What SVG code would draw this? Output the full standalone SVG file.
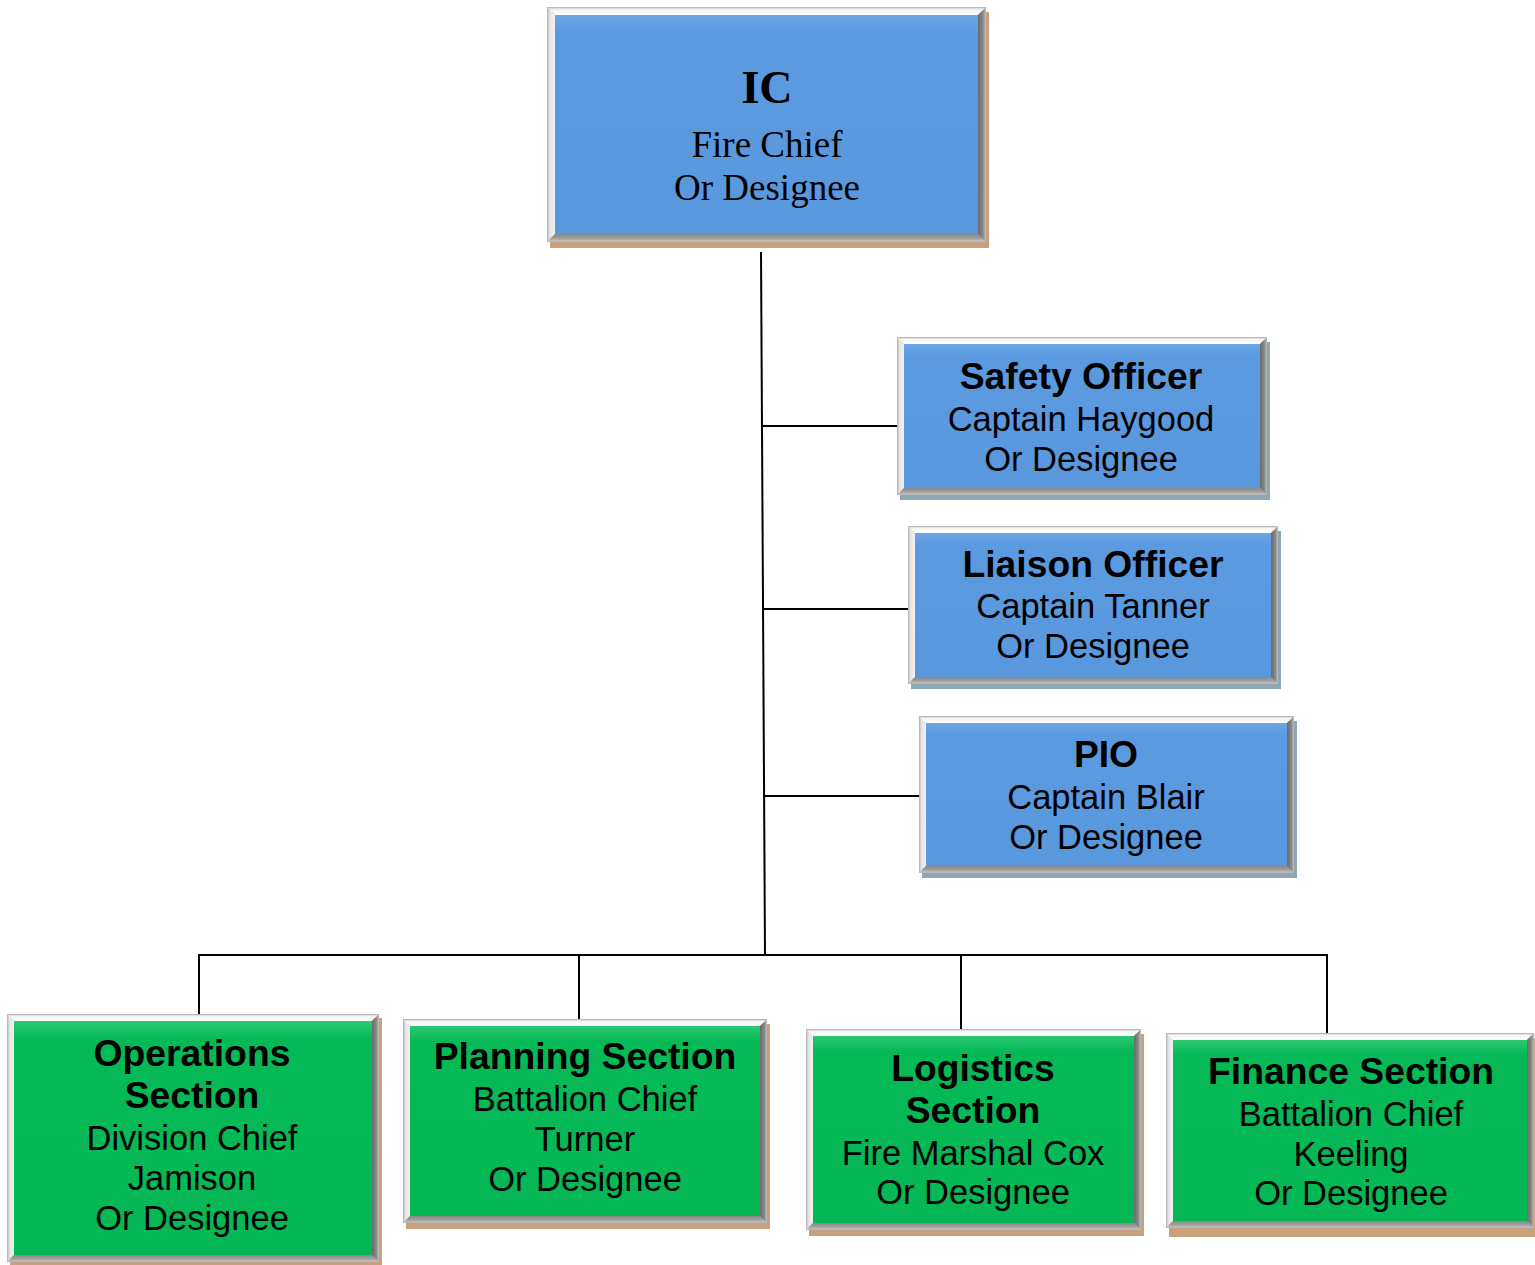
<svg xmlns="http://www.w3.org/2000/svg" width="1535" height="1265" viewBox="0 0 1535 1265">
  <defs>
    <linearGradient id="bevTop" x1="0" y1="0" x2="0" y2="1">
      <stop offset="0" stop-color="#c4c4c4"/>
      <stop offset="0.35" stop-color="#f4f4f4"/>
      <stop offset="1" stop-color="#ffffff"/>
    </linearGradient>
    <linearGradient id="bevLeft" x1="0" y1="0" x2="1" y2="0">
      <stop offset="0" stop-color="#bdbdbd"/>
      <stop offset="0.4" stop-color="#e6e6e6"/>
      <stop offset="1" stop-color="#f2f2f2"/>
    </linearGradient>
    <linearGradient id="bevRight" x1="0" y1="0" x2="1" y2="0">
      <stop offset="0" stop-color="#6a6a6a"/>
      <stop offset="0.6" stop-color="#888888"/>
      <stop offset="1" stop-color="#bdbdbd"/>
    </linearGradient>
    <linearGradient id="bevBottom" x1="0" y1="0" x2="0" y2="1">
      <stop offset="0" stop-color="#878787"/>
      <stop offset="0.6" stop-color="#a3a3a3"/>
      <stop offset="1" stop-color="#cfcfcf"/>
    </linearGradient>
    <linearGradient id="faceBlue" x1="0" y1="0" x2="0" y2="1">
      <stop offset="0" stop-color="#6ba6e6"/>
      <stop offset="0.08" stop-color="#5c9ae0"/>
      <stop offset="1" stop-color="#5a98de"/>
    </linearGradient>
    <linearGradient id="faceGreen" x1="0" y1="0" x2="0" y2="1">
      <stop offset="0" stop-color="#2cc872"/>
      <stop offset="0.08" stop-color="#06b957"/>
      <stop offset="1" stop-color="#05b755"/>
    </linearGradient>
  </defs>
  <style>
    .bt { fill: url(#bevTop); }
    .bl { fill: url(#bevLeft); }
    .br { fill: url(#bevRight); }
    .bb { fill: url(#bevBottom); }
    .edge { fill: none; stroke: #b8b8b8; stroke-width: 1; }
    .blue { fill: url(#faceBlue); }
    .green { fill: url(#faceGreen); }
    .shTan { fill: #c9a07e; }
    .shSlate { fill: #8ea8b3; }
    .conn { stroke: #000; stroke-width: 2; fill: none; }
    text { font-family: "Liberation Sans", Arial, sans-serif; text-anchor: middle; fill: #000; }
    .ttl { font-weight: bold; font-size: 37.3px; }
    .sub { font-size: 34.5px; }
    .serifTtl { font-family: "Liberation Serif", "Times New Roman", serif; font-weight: bold; font-size: 46px; }
    .serifSub { font-family: "Liberation Serif", "Times New Roman", serif; font-size: 37px; }
  </style>

  <!-- reporting lines -->
  <g id="connectors">
    <path class="conn" d="M761,252 L765,955"/>
    <path class="conn" d="M762,426 H900"/>
    <path class="conn" d="M764,609 H908"/>
    <path class="conn" d="M764,796 H920"/>
    <path class="conn" d="M198,955 H1328"/>
    <path class="conn" d="M199,955 V1015"/>
    <path class="conn" d="M579,955 V1020"/>
    <path class="conn" d="M961,955 V1030"/>
    <path class="conn" d="M1327,955 V1034"/>
  </g>

  <!-- Incident Commander -->
  <g id="ic">
    <rect class="shTan" x="550" y="12" width="439" height="236"/>
    <polygon class="bt" points="547,7 986,7 978,15 555,15"/>
    <polygon class="bl" points="547,7 555,15 555,234 547,242"/>
    <polygon class="br" points="986,7 986,242 978,234 978,15"/>
    <polygon class="bb" points="547,242 555,234 978,234 986,242"/>
    <rect class="blue" x="555" y="15" width="423" height="219"/>
    <rect class="edge" x="547.5" y="7.5" width="438" height="234"/>
    <text class="serifTtl" x="767" y="103">IC</text>
    <text class="serifSub" x="767" y="157">Fire Chief</text>
    <text class="serifSub" x="767" y="200">Or Designee</text>
  </g>

  <!-- Command staff -->
  <g id="safety">
    <rect class="shSlate" x="900" y="342" width="370" height="158"/>
    <polygon class="bt" points="897,337 1267,337 1260,344 904,344"/>
    <polygon class="bl" points="897,337 904,344 904,488 897,495"/>
    <polygon class="br" points="1267,337 1267,495 1260,488 1260,344"/>
    <polygon class="bb" points="897,495 904,488 1260,488 1267,495"/>
    <rect class="blue" x="904" y="344" width="356" height="144"/>
    <rect class="edge" x="897.5" y="337.5" width="369" height="157"/>
    <text class="ttl" x="1081" y="389">Safety Officer</text>
    <text class="sub" x="1081" y="431">Captain Haygood</text>
    <text class="sub" x="1081" y="471">Or Designee</text>
  </g>

  <g id="liaison">
    <rect class="shSlate" x="911" y="531" width="370" height="158"/>
    <polygon class="bt" points="908,526 1278,526 1271,533 915,533"/>
    <polygon class="bl" points="908,526 915,533 915,677 908,684"/>
    <polygon class="br" points="1278,526 1278,684 1271,677 1271,533"/>
    <polygon class="bb" points="908,684 915,677 1271,677 1278,684"/>
    <rect class="blue" x="915" y="533" width="356" height="144"/>
    <rect class="edge" x="908.5" y="526.5" width="369" height="157"/>
    <text class="ttl" x="1093" y="577">Liaison Officer</text>
    <text class="sub" x="1093" y="618">Captain Tanner</text>
    <text class="sub" x="1093" y="658">Or Designee</text>
  </g>

  <g id="pio">
    <rect class="shSlate" x="922" y="721" width="375" height="157"/>
    <polygon class="bt" points="919,716 1294,716 1287,723 926,723"/>
    <polygon class="bl" points="919,716 926,723 926,866 919,873"/>
    <polygon class="br" points="1294,716 1294,873 1287,866 1287,723"/>
    <polygon class="bb" points="919,873 926,866 1287,866 1294,873"/>
    <rect class="blue" x="926" y="723" width="361" height="143"/>
    <rect class="edge" x="919.5" y="716.5" width="374" height="156"/>
    <text class="ttl" x="1106" y="767">PIO</text>
    <text class="sub" x="1106" y="809">Captain Blair</text>
    <text class="sub" x="1106" y="849">Or Designee</text>
  </g>

  <!-- General staff sections -->
  <g id="operations">
    <rect class="shTan" x="10" y="1018" width="372" height="248"/>
    <polygon class="bt" points="7,1014 379,1014 372,1021 14,1021"/>
    <polygon class="bl" points="7,1014 14,1021 14,1255 7,1262"/>
    <polygon class="br" points="379,1014 379,1262 372,1255 372,1021"/>
    <polygon class="bb" points="7,1262 14,1255 372,1255 379,1262"/>
    <rect class="green" x="14" y="1021" width="358" height="234"/>
    <rect class="edge" x="7.5" y="1014.5" width="371" height="247"/>
    <text class="ttl" x="192" y="1066">Operations</text>
    <text class="ttl" x="192" y="1108">Section</text>
    <text class="sub" x="192" y="1150">Division Chief</text>
    <text class="sub" x="192" y="1190">Jamison</text>
    <text class="sub" x="192" y="1230">Or Designee</text>
  </g>

  <g id="planning">
    <rect class="shTan" x="406" y="1024" width="364" height="205"/>
    <polygon class="bt" points="403,1019 767,1019 760,1026 410,1026"/>
    <polygon class="bl" points="403,1019 410,1026 410,1216 403,1223"/>
    <polygon class="br" points="767,1019 767,1223 760,1216 760,1026"/>
    <polygon class="bb" points="403,1223 410,1216 760,1216 767,1223"/>
    <rect class="green" x="410" y="1026" width="350" height="190"/>
    <rect class="edge" x="403.5" y="1019.5" width="363" height="203"/>
    <text class="ttl" x="585" y="1069">Planning Section</text>
    <text class="sub" x="585" y="1111">Battalion Chief</text>
    <text class="sub" x="585" y="1151">Turner</text>
    <text class="sub" x="585" y="1191">Or Designee</text>
  </g>

  <g id="logistics">
    <rect class="shTan" x="809" y="1034" width="335" height="202"/>
    <polygon class="bt" points="806,1029 1141,1029 1134,1036 813,1036"/>
    <polygon class="bl" points="806,1029 813,1036 813,1223 806,1230"/>
    <polygon class="br" points="1141,1029 1141,1230 1134,1223 1134,1036"/>
    <polygon class="bb" points="806,1230 813,1223 1134,1223 1141,1230"/>
    <rect class="green" x="813" y="1036" width="321" height="187"/>
    <rect class="edge" x="806.5" y="1029.5" width="334" height="200"/>
    <text class="ttl" x="973" y="1081">Logistics</text>
    <text class="ttl" x="973" y="1123">Section</text>
    <text class="sub" x="973" y="1165">Fire Marshal Cox</text>
    <text class="sub" x="973" y="1204">Or Designee</text>
  </g>

  <g id="finance">
    <rect class="shTan" x="1169" y="1038" width="368" height="199"/>
    <polygon class="bt" points="1166,1033 1534,1033 1527,1040 1173,1040"/>
    <polygon class="bl" points="1166,1033 1173,1040 1173,1221 1166,1228"/>
    <polygon class="br" points="1534,1033 1534,1228 1527,1221 1527,1040"/>
    <polygon class="bb" points="1166,1228 1173,1221 1527,1221 1534,1228"/>
    <rect class="green" x="1173" y="1040" width="354" height="181"/>
    <rect class="edge" x="1166.5" y="1033.5" width="367" height="194"/>
    <text class="ttl" x="1351" y="1084">Finance Section</text>
    <text class="sub" x="1351" y="1126">Battalion Chief</text>
    <text class="sub" x="1351" y="1166">Keeling</text>
    <text class="sub" x="1351" y="1205">Or Designee</text>
  </g>
</svg>
